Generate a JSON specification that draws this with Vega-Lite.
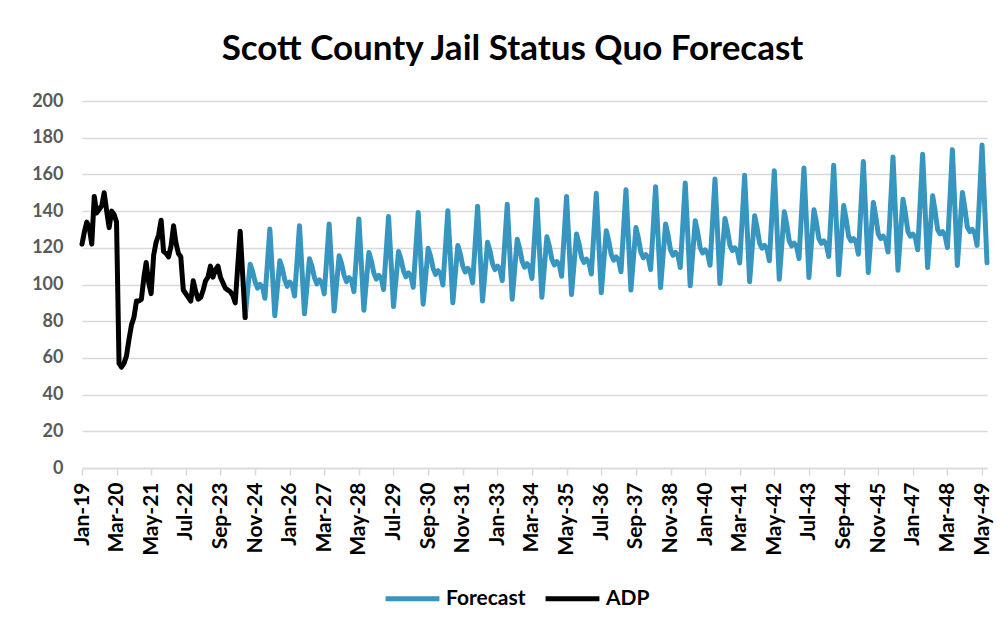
{
"$schema": "https://vega.github.io/schema/vega-lite/v6.json",
"width": 905, "height": 367,
"autosize": {"type": "none"},
"padding": {"left": 82, "top": 101, "right": 20, "bottom": 162},
"background": "white",
"title": {"text": "Scott County Jail Status Quo Forecast", "font": "Lato", "fontSize": 35, "fontWeight": "bold", "color": "#000000", "anchor": "middle", "dx": -22, "offset": 25},
"config": {"view": {"stroke": null}, "font": "Lato"},
"datasets": {
"adp": [
{"d":"2019-01-01","v":122},{"d":"2019-02-01","v":129},{"d":"2019-03-01","v":134},{"d":"2019-04-01","v":131},{"d":"2019-05-01","v":122},{"d":"2019-06-01","v":148},{"d":"2019-07-01","v":139},{"d":"2019-08-01","v":141},{"d":"2019-09-01","v":143},{"d":"2019-10-01","v":150},{"d":"2019-11-01","v":140},{"d":"2019-12-01","v":131},
{"d":"2020-01-01","v":140},{"d":"2020-02-01","v":138},{"d":"2020-03-01","v":134},{"d":"2020-04-01","v":57},{"d":"2020-05-01","v":55},{"d":"2020-06-01","v":57},{"d":"2020-07-01","v":61},{"d":"2020-08-01","v":70},{"d":"2020-09-01","v":78},{"d":"2020-10-01","v":82},{"d":"2020-11-01","v":91},{"d":"2020-12-01","v":91},
{"d":"2021-01-01","v":92},{"d":"2021-02-01","v":104},{"d":"2021-03-01","v":112},{"d":"2021-04-01","v":101},{"d":"2021-05-01","v":95},{"d":"2021-06-01","v":116},{"d":"2021-07-01","v":123},{"d":"2021-08-01","v":127},{"d":"2021-09-01","v":135},{"d":"2021-10-01","v":118},{"d":"2021-11-01","v":117},{"d":"2021-12-01","v":115},
{"d":"2022-01-01","v":121},{"d":"2022-02-01","v":132},{"d":"2022-03-01","v":123},{"d":"2022-04-01","v":117},{"d":"2022-05-01","v":115},{"d":"2022-06-01","v":97},{"d":"2022-07-01","v":95},{"d":"2022-08-01","v":93},{"d":"2022-09-01","v":91},{"d":"2022-10-01","v":102},{"d":"2022-11-01","v":96},{"d":"2022-12-01","v":92},
{"d":"2023-01-01","v":93},{"d":"2023-02-01","v":97},{"d":"2023-03-01","v":102},{"d":"2023-04-01","v":104},{"d":"2023-05-01","v":110},{"d":"2023-06-01","v":104},{"d":"2023-07-01","v":108},{"d":"2023-08-01","v":110},{"d":"2023-09-01","v":104},{"d":"2023-10-01","v":101},{"d":"2023-11-01","v":98},{"d":"2023-12-01","v":97},
{"d":"2024-01-01","v":96},{"d":"2024-02-01","v":94},{"d":"2024-03-01","v":90},{"d":"2024-04-01","v":110},{"d":"2024-05-01","v":129},{"d":"2024-06-01","v":105},{"d":"2024-07-01","v":82}
],
"fc": [
{"d":"2024-07-01","v":82},{"d":"2024-08-01","v":97},{"d":"2024-09-01","v":111},{"d":"2024-10-01","v":107},{"d":"2024-11-01","v":101.5},{"d":"2024-12-01","v":98},
{"d":"2025-01-01","v":100},{"d":"2025-02-01","v":98.5},{"d":"2025-03-01","v":92.5},{"d":"2025-04-01","v":111.4},{"d":"2025-05-01","v":130.2},{"d":"2025-06-01","v":106.6},{"d":"2025-07-01","v":83},{"d":"2025-08-01","v":98},{"d":"2025-09-01","v":113},{"d":"2025-10-01","v":108.8},{"d":"2025-11-01","v":102.5},{"d":"2025-12-01","v":99},
{"d":"2026-01-01","v":101.3},{"d":"2026-02-01","v":99.7},{"d":"2026-03-01","v":93.7},{"d":"2026-04-01","v":112.9},{"d":"2026-05-01","v":132},{"d":"2026-06-01","v":108},{"d":"2026-07-01","v":84},{"d":"2026-08-01","v":99},{"d":"2026-09-01","v":114},{"d":"2026-10-01","v":109.9},{"d":"2026-11-01","v":103.8},{"d":"2026-12-01","v":100.3},
{"d":"2027-01-01","v":102.5},{"d":"2027-02-01","v":100.9},{"d":"2027-03-01","v":94.9},{"d":"2027-04-01","v":114},{"d":"2027-05-01","v":133},{"d":"2027-06-01","v":109.3},{"d":"2027-07-01","v":85.5},{"d":"2027-08-01","v":100.6},{"d":"2027-09-01","v":115.7},{"d":"2027-10-01","v":111.4},{"d":"2027-11-01","v":105},{"d":"2027-12-01","v":101.6},
{"d":"2028-01-01","v":103.8},{"d":"2028-02-01","v":102.2},{"d":"2028-03-01","v":96.1},{"d":"2028-04-01","v":115.9},{"d":"2028-05-01","v":135.7},{"d":"2028-06-01","v":110.9},{"d":"2028-07-01","v":86},{"d":"2028-08-01","v":101.8},{"d":"2028-09-01","v":117.5},{"d":"2028-10-01","v":112.9},{"d":"2028-11-01","v":106.3},{"d":"2028-12-01","v":102.9},
{"d":"2029-01-01","v":105},{"d":"2029-02-01","v":103.4},{"d":"2029-03-01","v":97.3},{"d":"2029-04-01","v":117.2},{"d":"2029-05-01","v":137},{"d":"2029-06-01","v":112.5},{"d":"2029-07-01","v":88},{"d":"2029-08-01","v":103},{"d":"2029-09-01","v":118},{"d":"2029-10-01","v":113.8},{"d":"2029-11-01","v":107.5},{"d":"2029-12-01","v":104.2},
{"d":"2030-01-01","v":106.3},{"d":"2030-02-01","v":104.6},{"d":"2030-03-01","v":98.5},{"d":"2030-04-01","v":118.9},{"d":"2030-05-01","v":139.3},{"d":"2030-06-01","v":114.3},{"d":"2030-07-01","v":89.3},{"d":"2030-08-01","v":104.5},{"d":"2030-09-01","v":119.7},{"d":"2030-10-01","v":115.3},{"d":"2030-11-01","v":108.8},{"d":"2030-12-01","v":105.5},
{"d":"2031-01-01","v":107.5},{"d":"2031-02-01","v":105.8},{"d":"2031-03-01","v":99.7},{"d":"2031-04-01","v":120},{"d":"2031-05-01","v":140.2},{"d":"2031-06-01","v":115.1},{"d":"2031-07-01","v":90},{"d":"2031-08-01","v":105.7},{"d":"2031-09-01","v":121.3},{"d":"2031-10-01","v":116.7},{"d":"2031-11-01","v":110},{"d":"2031-12-01","v":106.8},
{"d":"2032-01-01","v":108.8},{"d":"2032-02-01","v":107},{"d":"2032-03-01","v":100.9},{"d":"2032-04-01","v":121.8},{"d":"2032-05-01","v":142.7},{"d":"2032-06-01","v":116.9},{"d":"2032-07-01","v":91},{"d":"2032-08-01","v":107},{"d":"2032-09-01","v":123},{"d":"2032-10-01","v":118.2},{"d":"2032-11-01","v":111.3},{"d":"2032-12-01","v":108.1},
{"d":"2033-01-01","v":110},{"d":"2033-02-01","v":108.3},{"d":"2033-03-01","v":102.1},{"d":"2033-04-01","v":122.9},{"d":"2033-05-01","v":143.7},{"d":"2033-06-01","v":117.9},{"d":"2033-07-01","v":92},{"d":"2033-08-01","v":108.4},{"d":"2033-09-01","v":124.7},{"d":"2033-10-01","v":119.6},{"d":"2033-11-01","v":112.5},{"d":"2033-12-01","v":109.4},
{"d":"2034-01-01","v":111.3},{"d":"2034-02-01","v":109.5},{"d":"2034-03-01","v":103.3},{"d":"2034-04-01","v":124.8},{"d":"2034-05-01","v":146.2},{"d":"2034-06-01","v":119.6},{"d":"2034-07-01","v":93},{"d":"2034-08-01","v":109.5},{"d":"2034-09-01","v":126},{"d":"2034-10-01","v":120.9},{"d":"2034-11-01","v":113.8},{"d":"2034-12-01","v":110.7},
{"d":"2035-01-01","v":112.5},{"d":"2035-02-01","v":110.7},{"d":"2035-03-01","v":104.5},{"d":"2035-04-01","v":126.3},{"d":"2035-05-01","v":148},{"d":"2035-06-01","v":121.3},{"d":"2035-07-01","v":94.5},{"d":"2035-08-01","v":111},{"d":"2035-09-01","v":127.5},{"d":"2035-10-01","v":122.3},{"d":"2035-11-01","v":115},{"d":"2035-12-01","v":112},
{"d":"2036-01-01","v":113.8},{"d":"2036-02-01","v":111.9},{"d":"2036-03-01","v":105.7},{"d":"2036-04-01","v":127.7},{"d":"2036-05-01","v":149.7},{"d":"2036-06-01","v":122.6},{"d":"2036-07-01","v":95.5},{"d":"2036-08-01","v":112.4},{"d":"2036-09-01","v":129.3},{"d":"2036-10-01","v":123.8},{"d":"2036-11-01","v":116.3},{"d":"2036-12-01","v":113.3},
{"d":"2037-01-01","v":115},{"d":"2037-02-01","v":113.1},{"d":"2037-03-01","v":106.9},{"d":"2037-04-01","v":129.3},{"d":"2037-05-01","v":151.7},{"d":"2037-06-01","v":124.4},{"d":"2037-07-01","v":97},{"d":"2037-08-01","v":114},{"d":"2037-09-01","v":131},{"d":"2037-10-01","v":125.3},{"d":"2037-11-01","v":117.5},{"d":"2037-12-01","v":114.6},
{"d":"2038-01-01","v":116.3},{"d":"2038-02-01","v":114.4},{"d":"2038-03-01","v":108.1},{"d":"2038-04-01","v":130.7},{"d":"2038-05-01","v":153.3},{"d":"2038-06-01","v":125.8},{"d":"2038-07-01","v":98.3},{"d":"2038-08-01","v":115.7},{"d":"2038-09-01","v":133},{"d":"2038-10-01","v":126.9},{"d":"2038-11-01","v":118.8},{"d":"2038-12-01","v":115.9},
{"d":"2039-01-01","v":117.5},{"d":"2039-02-01","v":115.6},{"d":"2039-03-01","v":109.3},{"d":"2039-04-01","v":132.3},{"d":"2039-05-01","v":155.3},{"d":"2039-06-01","v":127.3},{"d":"2039-07-01","v":99.3},{"d":"2039-08-01","v":117},{"d":"2039-09-01","v":134.7},{"d":"2039-10-01","v":128.4},{"d":"2039-11-01","v":120},{"d":"2039-12-01","v":117.2},
{"d":"2040-01-01","v":118.8},{"d":"2040-02-01","v":116.8},{"d":"2040-03-01","v":110.5},{"d":"2040-04-01","v":134},{"d":"2040-05-01","v":157.5},{"d":"2040-06-01","v":129},{"d":"2040-07-01","v":100.5},{"d":"2040-08-01","v":118.3},{"d":"2040-09-01","v":136},{"d":"2040-10-01","v":129.7},{"d":"2040-11-01","v":121.3},{"d":"2040-12-01","v":118.5},
{"d":"2041-01-01","v":120},{"d":"2041-02-01","v":118},{"d":"2041-03-01","v":111.7},{"d":"2041-04-01","v":135.6},{"d":"2041-05-01","v":159.5},{"d":"2041-06-01","v":130.5},{"d":"2041-07-01","v":101.5},{"d":"2041-08-01","v":119.5},{"d":"2041-09-01","v":137.5},{"d":"2041-10-01","v":131},{"d":"2041-11-01","v":122.5},{"d":"2041-12-01","v":119.8},
{"d":"2042-01-01","v":121.3},{"d":"2042-02-01","v":119.2},{"d":"2042-03-01","v":112.9},{"d":"2042-04-01","v":137.5},{"d":"2042-05-01","v":162},{"d":"2042-06-01","v":132.4},{"d":"2042-07-01","v":102.8},{"d":"2042-08-01","v":121.3},{"d":"2042-09-01","v":139.7},{"d":"2042-10-01","v":132.8},{"d":"2042-11-01","v":123.8},{"d":"2042-12-01","v":121.1},
{"d":"2043-01-01","v":122.5},{"d":"2043-02-01","v":120.5},{"d":"2043-03-01","v":114.1},{"d":"2043-04-01","v":138.8},{"d":"2043-05-01","v":163.5},{"d":"2043-06-01","v":133.7},{"d":"2043-07-01","v":103.8},{"d":"2043-08-01","v":122.3},{"d":"2043-09-01","v":140.7},{"d":"2043-10-01","v":133.9},{"d":"2043-11-01","v":125},{"d":"2043-12-01","v":122.4},
{"d":"2044-01-01","v":123.8},{"d":"2044-02-01","v":121.7},{"d":"2044-03-01","v":115.3},{"d":"2044-04-01","v":140.2},{"d":"2044-05-01","v":165},{"d":"2044-06-01","v":135.2},{"d":"2044-07-01","v":105.3},{"d":"2044-08-01","v":124.2},{"d":"2044-09-01","v":143},{"d":"2044-10-01","v":135.7},{"d":"2044-11-01","v":126.3},{"d":"2044-12-01","v":123.7},
{"d":"2045-01-01","v":125},{"d":"2045-02-01","v":122.9},{"d":"2045-03-01","v":116.5},{"d":"2045-04-01","v":141.8},{"d":"2045-05-01","v":167},{"d":"2045-06-01","v":136.8},{"d":"2045-07-01","v":106.5},{"d":"2045-08-01","v":125.6},{"d":"2045-09-01","v":144.7},{"d":"2045-10-01","v":137.1},{"d":"2045-11-01","v":127.5},{"d":"2045-12-01","v":125},
{"d":"2046-01-01","v":126.3},{"d":"2046-02-01","v":124.1},{"d":"2046-03-01","v":117.7},{"d":"2046-04-01","v":143.6},{"d":"2046-05-01","v":169.5},{"d":"2046-06-01","v":138.6},{"d":"2046-07-01","v":107.7},{"d":"2046-08-01","v":127.1},{"d":"2046-09-01","v":146.5},{"d":"2046-10-01","v":138.7},{"d":"2046-11-01","v":128.8},{"d":"2046-12-01","v":126.3},
{"d":"2047-01-01","v":127.5},{"d":"2047-02-01","v":125.3},{"d":"2047-03-01","v":118.9},{"d":"2047-04-01","v":145},{"d":"2047-05-01","v":171},{"d":"2047-06-01","v":140.1},{"d":"2047-07-01","v":109.2},{"d":"2047-08-01","v":128.8},{"d":"2047-09-01","v":148.4},{"d":"2047-10-01","v":140.2},{"d":"2047-11-01","v":130},{"d":"2047-12-01","v":127.6},
{"d":"2048-01-01","v":128.8},{"d":"2048-02-01","v":126.6},{"d":"2048-03-01","v":120.1},{"d":"2048-04-01","v":146.8},{"d":"2048-05-01","v":173.5},{"d":"2048-06-01","v":142},{"d":"2048-07-01","v":110.4},{"d":"2048-08-01","v":130.3},{"d":"2048-09-01","v":150.2},{"d":"2048-10-01","v":141.8},{"d":"2048-11-01","v":131.3},{"d":"2048-12-01","v":128.9},
{"d":"2049-01-01","v":130},{"d":"2049-02-01","v":127.8},{"d":"2049-03-01","v":121.3},{"d":"2049-04-01","v":148.7},{"d":"2049-05-01","v":176},{"d":"2049-06-01","v":143.9},{"d":"2049-07-01","v":111.8}
]
},
"encoding": {
"x": {"field": "d", "type": "temporal", "scale": {"type": "utc", "nice": false},
 "axis": {"title": null,
  "values": [
   {"year":2019,"month":1,"date":1,"utc":true},{"year":2020,"month":3,"date":1,"utc":true},{"year":2021,"month":5,"date":1,"utc":true},{"year":2022,"month":7,"date":1,"utc":true},{"year":2023,"month":9,"date":1,"utc":true},{"year":2024,"month":11,"date":1,"utc":true},
   {"year":2026,"month":1,"date":1,"utc":true},{"year":2027,"month":3,"date":1,"utc":true},{"year":2028,"month":5,"date":1,"utc":true},{"year":2029,"month":7,"date":1,"utc":true},{"year":2030,"month":9,"date":1,"utc":true},{"year":2031,"month":11,"date":1,"utc":true},
   {"year":2033,"month":1,"date":1,"utc":true},{"year":2034,"month":3,"date":1,"utc":true},{"year":2035,"month":5,"date":1,"utc":true},{"year":2036,"month":7,"date":1,"utc":true},{"year":2037,"month":9,"date":1,"utc":true},{"year":2038,"month":11,"date":1,"utc":true},
   {"year":2040,"month":1,"date":1,"utc":true},{"year":2041,"month":3,"date":1,"utc":true},{"year":2042,"month":5,"date":1,"utc":true},{"year":2043,"month":7,"date":1,"utc":true},{"year":2044,"month":9,"date":1,"utc":true},{"year":2045,"month":11,"date":1,"utc":true},
   {"year":2047,"month":1,"date":1,"utc":true},{"year":2048,"month":3,"date":1,"utc":true},{"year":2049,"month":5,"date":1,"utc":true}
  ],
  "labelExpr": "utcFormat(datum.value, '%b-%y')",
  "labelAngle": -90, "labelAlign": "right", "labelBaseline": "middle",
  "labelFont": "Lato", "labelFontSize": 21, "labelFontWeight": "bold", "labelColor": "#000000",
  "labelPadding": 7, "labelOverlap": false, "labelFlush": false, "labelBound": false,
  "grid": false, "domainColor": "#d9d9d9", "domainWidth": 1.5, "tickColor": "#d9d9d9", "tickWidth": 1.5, "tickSize": 7}},
"y": {"field": "v", "type": "quantitative", "scale": {"domain": [0, 200], "nice": false},
 "axis": {"title": null, "values": [0,20,40,60,80,100,120,140,160,180,200],
  "labelFont": "Lato", "labelFontSize": 18, "labelFontWeight": "bold", "labelColor": "#595959",
  "labelPadding": 19, "ticks": false, "domain": false, "gridColor": "#d9d9d9", "gridWidth": 1.5}}
},
"layer": [
{"data": {"name": "fc"},
 "mark": {"type": "line", "strokeWidth": 5, "strokeJoin": "round", "strokeCap": "round"},
 "encoding": {"color": {"datum": "Forecast", "type": "nominal",
  "scale": {"domain": ["Forecast", "ADP"], "range": ["#3796bf", "#000000"]},
  "legend": {"title": null, "orient": "none", "direction": "horizontal", "legendX": 301, "legendY": 468,
   "symbolType": "stroke", "symbolSize": 2900, "symbolStrokeWidth": 5,
   "labelFont": "Lato", "labelFontSize": 21, "labelFontWeight": "bold", "labelColor": "#000000",
   "labelOffset": 4, "columnPadding": 9}}}},
{"data": {"name": "adp"},
 "mark": {"type": "line", "strokeWidth": 5, "strokeJoin": "round", "strokeCap": "round"},
 "encoding": {"color": {"datum": "ADP", "type": "nominal"}}}
]
}
